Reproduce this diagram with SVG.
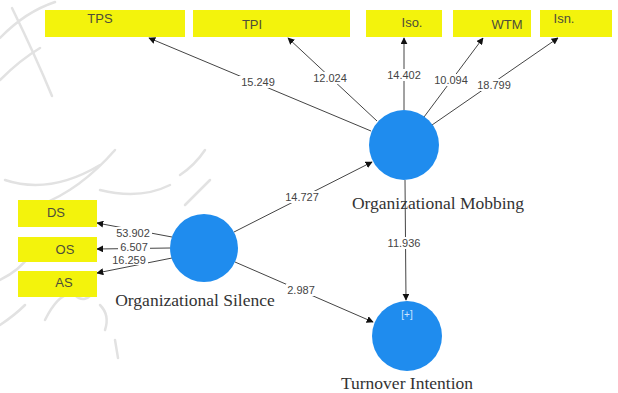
<svg xmlns="http://www.w3.org/2000/svg" width="618" height="393" viewBox="0 0 618 393">
<defs>
<marker id="ah" viewBox="0 0 10 10" refX="9" refY="5" markerWidth="7" markerHeight="7" markerUnits="userSpaceOnUse" orient="auto">
<path d="M0,0 L10,5 L0,10 z" fill="#111"/>
</marker>
<style>
.box{fill:#f3f30c;}
.btxt{font-family:"Liberation Sans","Open Sans",sans-serif;font-size:13px;fill:#4d4d3a;text-anchor:middle;}
.lv{fill:#1f8cee;}
.ltxt{font-family:"Liberation Serif","DejaVu Serif",serif;font-size:17.5px;fill:#333;text-anchor:middle;}
.edge{stroke:#444;stroke-width:1;fill:none;marker-end:url(#ah);}
.num{font-family:"Liberation Sans","Open Sans",sans-serif;font-size:11px;fill:#444;text-anchor:middle;}
.nbg{fill:#fff;}
.wm{stroke:#e2e2e2;stroke-width:2.5;fill:none;stroke-linecap:round;}
</style>
</defs>
<rect width="618" height="393" fill="#fff"/>
<g id="watermark">
<path class="wm" d="M0,38 Q25,12 55,2"/>
<path class="wm" d="M12,8 Q35,55 52,96"/>
<path class="wm" d="M0,80 Q20,60 40,48"/>
<path class="wm" d="M5,180 Q50,195 100,165"/>
<path class="wm" d="M40,205 Q80,190 115,150"/>
<path class="wm" d="M100,190 Q140,200 170,185"/>
<path class="wm" d="M180,175 Q195,165 205,150"/>
<path class="wm" d="M185,205 Q200,190 210,180"/>
<path class="wm" d="M0,280 Q20,270 30,255"/>
<path class="wm" d="M45,320 Q60,290 75,295 Q85,305 95,290"/>
<path class="wm" d="M0,325 Q15,315 25,305"/>
<path class="wm" d="M100,305 Q110,315 105,330"/>
<path class="wm" d="M115,340 L118,358"/>
</g>
<g id="connectors">
<line class="edge" x1="371" y1="131" x2="149" y2="38"/>
<line class="edge" x1="377" y1="121" x2="288" y2="38"/>
<line class="edge" x1="404" y1="110" x2="404" y2="38"/>
<line class="edge" x1="424" y1="117" x2="483" y2="38"/>
<line class="edge" x1="432" y1="125" x2="558" y2="38"/>
<line class="edge" x1="234" y1="232" x2="372" y2="162"/>
<line class="edge" x1="235" y1="262" x2="373" y2="322"/>
<line class="edge" x1="405" y1="180" x2="406" y2="300"/>
<line class="edge" x1="172" y1="237" x2="97" y2="223"/>
<line class="edge" x1="170" y1="248" x2="97" y2="249"/>
<line class="edge" x1="172" y1="258" x2="97" y2="273"/>
<rect class="nbg" x="239" y="76" width="38" height="12"/>
<text class="num" x="258" y="86">15.249</text>
<rect class="nbg" x="311" y="72" width="38" height="12"/>
<text class="num" x="330" y="82">12.024</text>
<rect class="nbg" x="385" y="69" width="38" height="12"/>
<text class="num" x="404" y="79">14.402</text>
<rect class="nbg" x="432" y="74" width="38" height="12"/>
<text class="num" x="451" y="84">10.094</text>
<rect class="nbg" x="475" y="79" width="38" height="12"/>
<text class="num" x="494" y="89">18.799</text>
<rect class="nbg" x="283" y="191" width="38" height="12"/>
<text class="num" x="302" y="201">14.727</text>
<rect class="nbg" x="286" y="284" width="30" height="12"/>
<text class="num" x="301" y="294">2.987</text>
<rect class="nbg" x="385" y="237" width="38" height="12"/>
<text class="num" x="404" y="247">11.936</text>
<rect class="nbg" x="114" y="227" width="38" height="11"/>
<text class="num" x="133" y="237">53.902</text>
<rect class="nbg" x="118" y="242" width="32" height="10"/>
<text class="num" x="134" y="251">6.507</text>
<rect class="nbg" x="110" y="254" width="38" height="11"/>
<text class="num" x="129" y="264">16.259</text>
</g>
<g id="TPS"><rect class="box" x="45" y="10" width="140" height="27"/><text class="btxt" x="100" y="23">TPS</text></g>
<g id="TPI"><rect class="box" x="193" y="10" width="157" height="27"/><text class="btxt" x="252" y="29">TPI</text></g>
<g id="Iso"><rect class="box" x="366" y="10" width="76" height="27"/><text class="btxt" x="412" y="27">Iso.</text></g>
<g id="WTM"><rect class="box" x="453" y="10" width="78" height="27"/><text class="btxt" x="507" y="29">WTM</text></g>
<g id="Isn"><rect class="box" x="540" y="10" width="72" height="27"/><text class="btxt" x="564" y="23">Isn.</text></g>
<g id="DS"><rect class="box" x="18" y="200" width="79" height="27"/><text class="btxt" x="56" y="217">DS</text></g>
<g id="OS"><rect class="box" x="18" y="237" width="79" height="25"/><text class="btxt" x="65" y="254">OS</text></g>
<g id="AS"><rect class="box" x="18" y="271" width="79" height="26"/><text class="btxt" x="64" y="287">AS</text></g>
<g id="OrganizationalMobbing"><circle class="lv" cx="404" cy="145" r="35"/><text class="ltxt" x="438" y="209">Organizational Mobbing</text></g>
<g id="OrganizationalSilence"><circle class="lv" cx="204" cy="248" r="34"/><text class="ltxt" x="195" y="306">Organizational Silence</text></g>
<g id="TurnoverIntention"><circle class="lv" cx="407" cy="336" r="35"/><text x="407" y="318" font-family="Liberation Sans, sans-serif" font-size="10" fill="#cfe6ff" text-anchor="middle">[+]</text><text class="ltxt" x="407" y="389">Turnover Intention</text></g>
</svg>
